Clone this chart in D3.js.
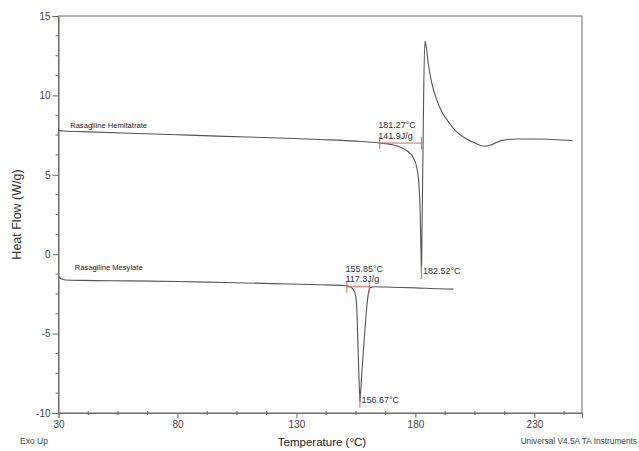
<!DOCTYPE html>
<html lang="en">
<head>
<meta charset="UTF-8">
<script src="https://d3js.org/d3.v7.min.js"></script>
<style>
  body { margin: 0; background: #fff; }
  text { font-family: "Liberation Sans", Arial, sans-serif; }
</style>
</head>
<body>
<div id="chart"></div>
<script>
// Rasagiline Hemitartrate DSC trace
const hemiTemp = [30, 32, 40, 60, 80, 100, 120, 140, 155, 165, 170, 174, 177, 179, 180.5, 181.3, 181.7, 182.0, 182.2, 182.4, 182.52,
  182.7, 183.1, 183.5, 184.0, 184.6, 185.5, 187, 189, 191, 194, 197, 201, 205, 209, 212, 216, 222, 230, 238, 246];
const hemiFlow = [7.8, 7.76, 7.72, 7.62, 7.52, 7.42, 7.33, 7.22, 7.12, 7.0, 6.9, 6.72, 6.45, 6.1, 5.5, 4.7, 3.8, 2.6, 1.2, -0.3, -1.2,
  0.8, 5.5, 10.5, 13.4, 13.0, 11.9, 10.7, 9.7, 9.0, 8.3, 7.75, 7.3, 7.0, 6.8, 6.9, 7.15, 7.25, 7.25, 7.22, 7.15];

// Rasagiline Mesylate DSC trace
const mesTemp = [30, 31, 33, 40, 60, 80, 100, 120, 140, 150, 152, 153.5, 154.5, 155.2, 155.6, 156.0, 156.4, 156.67,
  157.0, 157.6, 158.3, 159.0, 159.7, 160.3, 161, 163, 170, 180, 190, 196];
const mesFlow = [-1.42, -1.55, -1.62, -1.65, -1.68, -1.72, -1.78, -1.85, -1.92, -1.97, -2.02, -2.15, -2.4, -3.0, -4.5, -6.5, -8.3, -9.3,
  -8.6, -7.2, -5.7, -4.3, -3.1, -2.4, -2.12, -2.05, -2.08, -2.12, -2.18, -2.2];

const xTicks = [30, 80, 130, 180, 230];
const yTicks = [-10, -5, 0, 5, 10, 15];

// peak annotations: onset, enthalpy, integration limits, peak
const onsetLabels = ["181.27°C", "155.85°C"];
const enthalpyLabels = ["141.9J/g", "117.3J/g"];
const integStart = [165, 151.2];
const integEnd = [182.6, 160.6];
const integLevel = [7.0, -2.05];
const peakTemp = [182.52, 156.67];
const peakFlow = [-1.2, -9.3];
const peakLabels = ["182.52°C", "156.67°C"];

const W = 639, H = 451;
const margin = { top: 16, right: 57, bottom: 38, left: 58.5 };

const svg = d3.select("#chart").append("svg")
  .attr("width", W).attr("height", H);

const x = d3.scaleLinear().domain([30, 250]).range([margin.left, W - margin.right]);
const y = d3.scaleLinear().domain([-10, 15]).range([H - margin.bottom, margin.top]);

const axisColor = "#6a6a6a";
const tickText = "#444";

// frame
svg.append("rect")
  .attr("x", x(30)).attr("y", y(15))
  .attr("width", x(250) - x(30)).attr("height", y(-10) - y(15))
  .attr("fill", "none").attr("stroke", axisColor).attr("stroke-width", 1);

// minor ticks
const xMinor = d3.range(30, 250.1, 12.5).filter(v => !xTicks.includes(v));
const yMinor = d3.range(-10, 15.1, 1.25).filter(v => !yTicks.includes(v));

const gx = svg.append("g")
  .attr("transform", "translate(0," + y(-10) + ")")
  .call(d3.axisBottom(x).tickValues(xTicks).tickSize(5).tickPadding(3).tickFormat(d => String(d)));
gx.append("g").selectAll("line").data(xMinor).enter().append("line")
  .attr("x1", d => x(d)).attr("x2", d => x(d)).attr("y1", -2).attr("y2", 2)
  .attr("stroke", axisColor);

const gy = svg.append("g")
  .attr("transform", "translate(" + x(30) + ",0)")
  .call(d3.axisLeft(y).tickValues(yTicks).tickSize(6).tickPadding(2).tickFormat(d => String(d)));
gy.append("g").selectAll("line").data(yMinor).enter().append("line")
  .attr("y1", d => y(d)).attr("y2", d => y(d)).attr("x1", -3).attr("x2", 0)
  .attr("stroke", axisColor);

[gx, gy].forEach(g => {
  g.select(".domain").attr("stroke", axisColor);
  g.selectAll(".tick line").attr("stroke", axisColor);
  g.selectAll(".tick text").attr("fill", tickText)
    .style("font-family", "Liberation Sans, Arial, sans-serif").style("font-size", "10px");
});

// curves
const line = d3.line().x(d => x(d[0])).y(d => y(d[1])).curve(d3.curveMonotoneX);
const curveColor = "#555";

svg.append("path")
  .datum(hemiTemp.map((t, i) => [t, hemiFlow[i]]))
  .attr("d", line).attr("fill", "none").attr("stroke", curveColor).attr("stroke-width", 1.1);

svg.append("path")
  .datum(mesTemp.map((t, i) => [t, mesFlow[i]]))
  .attr("d", line).attr("fill", "none").attr("stroke", curveColor).attr("stroke-width", 1.1);

// curve names
svg.append("text").attr("x", x(34.9)).attr("y", y(7.78) - 2.5)
  .attr("font-size", 7.6).attr("fill", "#222").text("Rasagiline Hemitatrate");
svg.append("text").attr("x", x(36.8)).attr("y", y(-1.68) - 11)
  .attr("font-size", 7.6).attr("fill", "#222").text("Rasagiline Mesylate");

// annotations
const red = "#e8625f";
const ann = svg.append("g");
integStart.forEach((s, i) => {
  const yy = y(integLevel[i]);
  ann.append("line").attr("x1", x(s)).attr("x2", x(integEnd[i])).attr("y1", yy).attr("y2", yy)
    .attr("stroke", red).attr("stroke-width", 1);
  [s, integEnd[i]].forEach(t => {
    ann.append("line").attr("x1", x(t)).attr("x2", x(t)).attr("y1", yy - 6).attr("y2", yy + 6)
      .attr("stroke", red).attr("stroke-width", 1);
  });
  ann.append("text").attr("x", x(s) - 1.5).attr("y", yy - 15)
    .attr("font-size", 9).attr("fill", "#333").text(onsetLabels[i]);
  ann.append("text").attr("x", x(s) - 1.5).attr("y", yy - 4.5)
    .attr("font-size", 9).attr("fill", "#333").text(enthalpyLabels[i]);

  const px = x(peakTemp[i]), py = y(peakFlow[i]);
  ann.append("line").attr("x1", px).attr("x2", px).attr("y1", py - 8).attr("y2", py + 6)
    .attr("stroke", red).attr("stroke-width", 1);
  ann.append("text").attr("x", px + 1.5).attr("y", py + 1)
    .attr("font-size", 9).attr("fill", "#333").text(peakLabels[i]);
});

// axis titles and footer
svg.append("text")
  .attr("transform", "translate(21," + ((y(15) + y(-10)) / 2) + ") rotate(-90)")
  .attr("text-anchor", "middle").attr("font-size", 12.5).attr("fill", "#333")
  .text("Heat Flow (W/g)");
svg.append("text").attr("x", 322).attr("y", 446)
  .attr("text-anchor", "middle").attr("font-size", 11.5).attr("fill", "#222")
  .text("Temperature (°C)");
svg.append("text").attr("x", 20).attr("y", 444)
  .attr("font-size", 8.5).attr("fill", "#444").text("Exo Up");
svg.append("text").attr("x", 637).attr("y", 444)
  .attr("text-anchor", "end").attr("font-size", 8.3).attr("fill", "#444")
  .text("Universal V4.5A TA Instruments");
</script>
</body>
</html>
